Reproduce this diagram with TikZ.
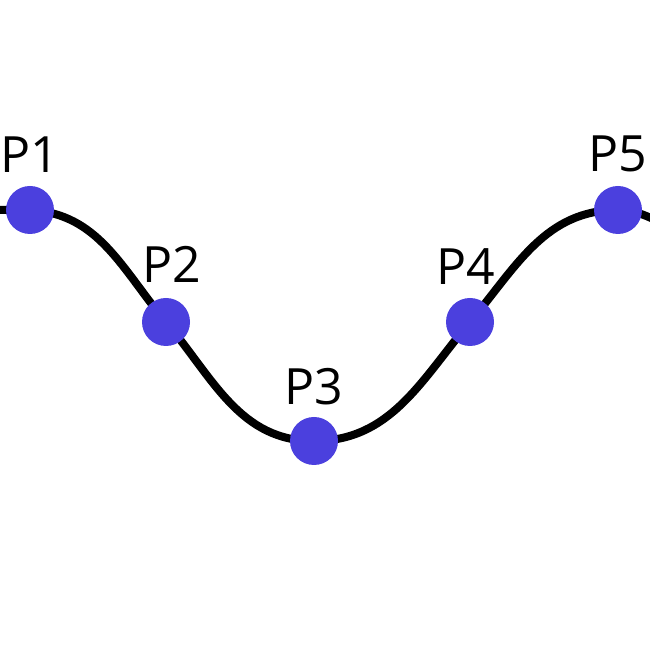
\documentclass[tikz,border=0pt]{standalone}
\usepackage{fontspec}
\setmainfont{Open Sans}
\usepackage{xcolor}
\definecolor{dotblue}{RGB}{75, 64, 222}
\usetikzlibrary{positioning, backgrounds}

\begin{document}
\begin{tikzpicture}[
    x=1pt, y=1pt,
    dot/.style={circle, fill=dotblue, minimum size=48pt, inner sep=0pt},
    tag/.style={inner sep=0pt, font=\fontsize{50}{60}\selectfont},
    curve/.style={line width=8pt, black}
]
    \useasboundingbox (0,0) rectangle (650,650);

    % Points
    \node[dot] (p1) at (30,440) {};
    \node[dot] (p2) at (166,328) {};
    \node[dot] (p3) at (314,209) {};
    \node[dot] (p4) at (470,328) {};
    \node[dot] (p5) at (618,440) {};
    \coordinate (w) at (-20,440);
    \coordinate (e) at (670,424);

    % Labels
    \node[tag, above=13pt of p1] (l1) {P1};
    \node[tag, above=15pt of p2, xshift=6pt] (l2) {P2};
    \node[tag, above=12pt of p3] (l3) {P3};
    \node[tag, above=13pt of p4, xshift=-4pt] (l4) {P4};
    \node[tag, above=14pt of p5] (l5) {P5};

    % Curve
    \begin{scope}[on background layer]
        \draw[curve] (w) to[out=0, in=180] (p1.center)
            to[out=-3, in=130] (p2.center)
            to[out=-50, in=180] (p3.center)
            to[out=0, in=-130] (p4.center)
            to[out=50, in=180] (p5.center)
            to[out=0, in=160] (e);
    \end{scope}
\end{tikzpicture}
\end{document}
